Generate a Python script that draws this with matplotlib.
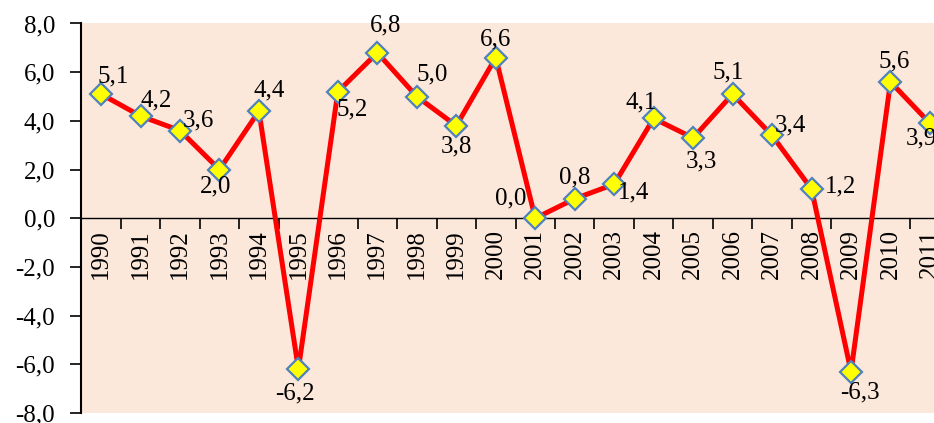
import numpy as np
import matplotlib
matplotlib.use("Agg")
import matplotlib.pyplot as plt
from matplotlib.ticker import FixedLocator, FuncFormatter

# data
years = [str(y) for y in range(1990, 2012)]
values = [5.1, 4.2, 3.6, 2.0, 4.4, -6.2, 5.2, 6.8, 5.0, 3.8, 6.6,
          0.0, 0.8, 1.4, 4.1, 3.3, 5.1, 3.4, 1.2, -6.3, 5.6, 3.9]
# label offsets in pixels (dx, dy)
label_dx = [12, 16, 18, -4, 10, -3, 14, 8, 15, 0, 0,
            -25, 0, 19, -12, 8, -4, 18, 29, 9, 4, -9]
label_dy = [18, 16, 10, -17, 21, -24, -18, 27, 22, -21, 18,
            20, 21, -8, 16, -24, 22, 10, 3, -21, 20, -15]

plt.rcParams["font.family"] = ["Liberation Serif", "DejaVu Serif"]

fig = plt.figure(figsize=(9.34, 4.23), dpi=100)
ax = fig.add_axes([81.3 / 934, 1 - 413 / 423, 868.4 / 934, (413 - 23.5) / 423])
ax.set_facecolor("#FCE8DA")

x = np.arange(len(years))
ax.plot(x, values, color="#FF0000", lw=3.6, marker="D", markersize=11.5,
        markerfacecolor="#FFFF00", markeredgecolor="#4F81BD", markeredgewidth=1.6,
        zorder=3)

for i, v in enumerate(values):
    ax.annotate(f"{v:.1f}".replace(".", ","), (i, v),
                xytext=(label_dx[i], label_dy[i]), textcoords="offset pixels",
                ha="center", va="center", fontsize=18, color="black")

ax.set_xlim(-0.5, len(years) - 0.5)
ax.set_ylim(-8, 8)
ax.set_yticks(np.arange(-8, 9, 2))
ax.yaxis.set_major_formatter(FuncFormatter(lambda v, p: f"{v:.1f}".replace(".", ",")))
ax.tick_params(axis="y", direction="out", length=8, width=1.2, pad=11, labelsize=18)

ax.spines["top"].set_visible(False)
ax.spines["right"].set_visible(False)
ax.spines["left"].set_linewidth(1.5)
ax.spines["bottom"].set_position(("data", 0))
ax.spines["bottom"].set_linewidth(1)

ax.set_xticks(x)
ax.set_xticklabels(years, rotation=90, va="top", ha="center")
ax.xaxis.set_minor_locator(FixedLocator(np.arange(0.5, len(years) - 0.5, 1)))
ax.tick_params(axis="x", which="major", length=0, pad=8, labelsize=18)
ax.tick_params(axis="x", which="minor", direction="out", length=8, width=1.2)

fig.savefig("out.png", dpi=100)
